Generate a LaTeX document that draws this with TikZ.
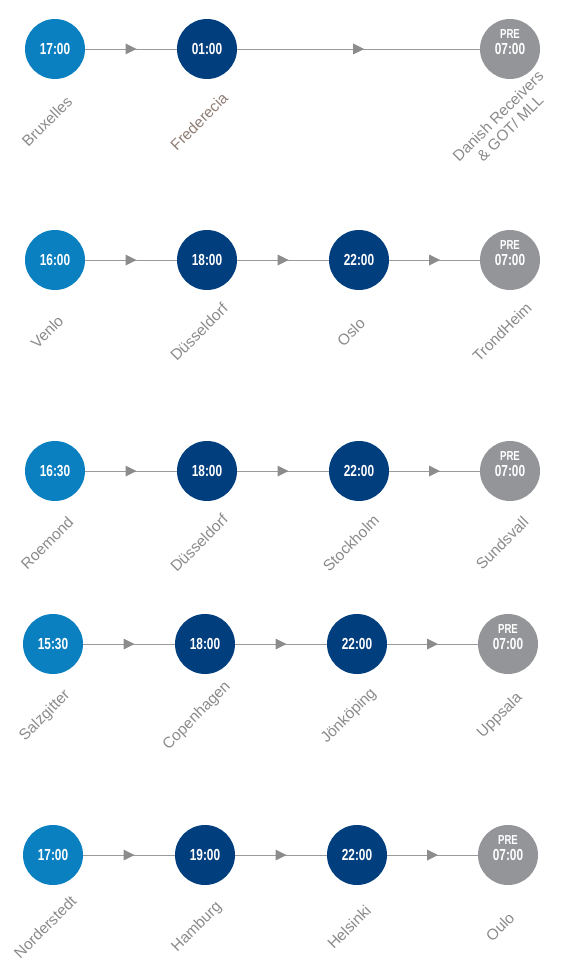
\documentclass[tikz,border=0pt]{standalone}
\usepackage{fontspec}
\setmainfont{Liberation Sans}
\newfontfamily\timefont[FakeStretch=0.74]{Liberation Sans}
\usepackage{tikz}
\usetikzlibrary{decorations.markings}
\definecolor{lightblue}{HTML}{0A80C0}
\definecolor{darkblue}{HTML}{003E7E}
\definecolor{pregray}{HTML}{939598}
\definecolor{linegray}{HTML}{9A9A9A}
\definecolor{tipgray}{HTML}{8C8C8C}
\definecolor{labgray}{HTML}{8A8A8A}
\definecolor{labbrown}{HTML}{8E7D74}

\begin{document}
\begin{tikzpicture}[x=1pt,y=-1pt,
  stopbox/.style={circle, minimum size=60pt, inner sep=0pt, text=white, font=\timefont\bfseries\fontsize{16}{18}\selectfont},
  startstop/.style={stopbox, fill=lightblue},
  hubstop/.style={stopbox, fill=darkblue},
  prestop/.style={stopbox, fill=pregray, label={[font=\timefont\bfseries\fontsize{13}{15}\selectfont, text=white, yshift=15pt]center:PRE}},
  city/.style={rotate=45, align=center, text=labgray, inner sep=1pt, font=\fontsize{15.4}{17}\selectfont},
  arr/.style={draw=linegray, line width=0.8pt, postaction={decorate},
    decoration={markings, mark=at position 0.5 with {\fill[tipgray] (5.5pt,0pt) -- (-5.5pt,5.5pt) -- (-5.5pt,-5.5pt) -- cycle;}}}]
\useasboundingbox (0,0) rectangle (582,979);
% row 1
\node[startstop] (A1) at (55,49)  {17:00};
\node[hubstop]   (A2) at (207,49) {01:00};
\node[prestop]   (A4) at (510,49) {07:00};
\node[city] (lA1) at (47,121.5)  {Bruxelles};
\node[city, text=labbrown] (lA2) at (199,121.5) {Frederecia};
\node[city] (lA4) at (504,122)   {Danish Receivers\\\& GOT/ MLL};
\draw[arr] (A1) -- (A2); \draw[arr] (A2) -- (A4);
% row 2
\node[startstop] (B1) at (55,260)  {16:00};
\node[hubstop]   (B2) at (207,260) {18:00};
\node[hubstop]   (B3) at (359,260) {22:00};
\node[prestop]   (B4) at (510,260) {07:00};
\node[city] (lB1) at (47,332)  {Venlo};
\node[city] (lB2) at (199,332) {Düsseldorf};
\node[city] (lB3) at (351,332) {Oslo};
\node[city] (lB4) at (502,332) {TrondHeim};
\draw[arr] (B1) -- (B2); \draw[arr] (B2) -- (B3); \draw[arr] (B3) -- (B4);
% row 3
\node[startstop] (C1) at (55,471)  {16:30};
\node[hubstop]   (C2) at (207,471) {18:00};
\node[hubstop]   (C3) at (359,471) {22:00};
\node[prestop]   (C4) at (510,471) {07:00};
\node[city] (lC1) at (47,543)  {Roemond};
\node[city] (lC2) at (199,543) {Düsseldorf};
\node[city] (lC3) at (351,543) {Stockholm};
\node[city] (lC4) at (502,543) {Sundsvall};
\draw[arr] (C1) -- (C2); \draw[arr] (C2) -- (C3); \draw[arr] (C3) -- (C4);
% row 4
\node[startstop] (D1) at (53,644)  {15:30};
\node[hubstop]   (D2) at (205,644) {18:00};
\node[hubstop]   (D3) at (357,644) {22:00};
\node[prestop]   (D4) at (508,644) {07:00};
\node[city] (lD1) at (45,716)  {Salzgitter};
\node[city] (lD2) at (197,716) {Copenhagen};
\node[city] (lD3) at (349,716) {Jönköping};
\node[city] (lD4) at (500,716) {Uppsala};
\draw[arr] (D1) -- (D2); \draw[arr] (D2) -- (D3); \draw[arr] (D3) -- (D4);
% row 5
\node[startstop] (E1) at (53,855)  {17:00};
\node[hubstop]   (E2) at (205,855) {19:00};
\node[hubstop]   (E3) at (357,855) {22:00};
\node[prestop]   (E4) at (508,855) {07:00};
\node[city] (lE1) at (45,927)  {Norderstedt};
\node[city] (lE2) at (197,927) {Hamburg};
\node[city] (lE3) at (349,927) {Helsinki};
\node[city] (lE4) at (500,927) {Oulo};
\draw[arr] (E1) -- (E2); \draw[arr] (E2) -- (E3); \draw[arr] (E3) -- (E4);
\end{tikzpicture}
\end{document}
